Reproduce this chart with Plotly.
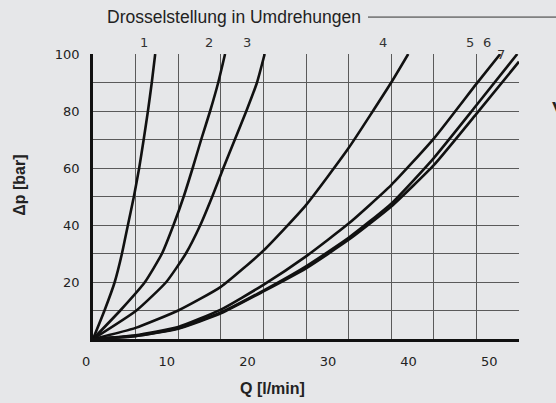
import plotly.graph_objects as go

# Drosselstellung curves: Q [l/min] vs dp [bar]
q1 = [0, 1.35, 2.55, 3.4, 4.1, 4.8, 5.42, 5.95, 6.45, 6.9, 7.3]
p1 = [0, 10, 20, 30, 40, 50, 60, 70, 80, 90, 100]

q2 = [0, 3.2, 6.1, 8.1, 9.45, 10.65, 11.7, 12.7, 13.75, 14.7, 15.5]
p2 = [0, 10, 20, 30, 40, 50, 60, 70, 80, 90, 100]

q3 = [0, 5.1, 8.6, 10.9, 12.6, 14.0, 15.3, 16.65, 18.0, 19.25, 20.15]
p3 = [0, 10, 20, 30, 40, 50, 60, 70, 80, 90, 100]

q4 = [0, 5, 10, 15, 20, 25, 30, 35, 37]
p4 = [0, 3.9, 10, 18.3, 31, 47, 67, 90, 100]

q5 = [0, 5, 10, 15, 20, 25, 30, 35, 40, 45, 47.8]
p5 = [0, 1.3, 4.2, 10.3, 19, 29, 40.5, 54, 70.3, 89.5, 100]

q6 = [0, 5, 10, 15, 20, 25, 30, 35, 40, 45, 49.8]
p6 = [0, 1.1, 3.8, 9.3, 17.0, 25.5, 35.5, 47.5, 63.5, 82, 100]

q7 = [0, 5, 10, 15, 20, 25, 30, 35, 40, 45, 50]
p7 = [0, 1.0, 3.6, 9.0, 16.7, 24.8, 34.8, 46.5, 61, 79, 97.3]

curve_labels = ["1", "2", "3", "4", "5", "6", "7"]
x_ticks = [0, 10, 20, 30, 40, 50]
y_ticks = [20, 40, 60, 80, 100]

series = [(q1, p1), (q2, p2), (q3, p3), (q4, p4), (q5, p5), (q6, p6), (q7, p7)]

W, H = 556, 403
PL = 80            # left edge of the whole plotting region (incl. shifted tick scale)
AX0, R, T, B = 93, 519, 54, 339.5   # main axes box
BG = "#e6e7e9"


def px(x):
    return (x - PL) / (R - PL)


def py(y):
    return (B - y) / (B - T)


fig = go.Figure()

# carrier for the printed Q scale (its labels sit slightly off the grid in the original)
fig.add_trace(go.Scatter(x=x_ticks, y=[0] * len(x_ticks), xaxis="x2", yaxis="y2",
                         mode="markers", marker=dict(opacity=0), showlegend=False,
                         hoverinfo="skip"))

for q, p in series:
    fig.add_trace(go.Scatter(x=q, y=p, mode="lines", xaxis="x", yaxis="y",
                             line=dict(color="#111111", width=2.6, shape="spline", smoothing=0.5),
                             showlegend=False, hoverinfo="skip", cliponaxis=False))

xv = list(range(0, 51, 5))
yv = list(range(0, 101, 10))
fig.update_layout(
    xaxis=dict(domain=[px(AX0), 1], range=[0, 50], tickvals=xv, showticklabels=False,
               showgrid=True, gridcolor="#5a5a5a", gridwidth=1,
               zeroline=False, showline=True, linecolor="#111111", linewidth=2.5,
               ticks="", anchor="y"),
    yaxis=dict(domain=[0, 1], range=[0, 100], tickvals=yv,
               ticktext=[str(v) if v in y_ticks else "" for v in yv],
               showgrid=True, gridcolor="#5a5a5a", gridwidth=1,
               zeroline=False, showline=True, linecolor="#111111", linewidth=2.5,
               ticks="", ticklabelstandoff=8, anchor="x",
               tickfont=dict(family="DejaVu Sans", size=13, color="#222222")),
    xaxis2=dict(domain=[0, 1], range=[(PL - 86.2) / 8.06, (R - 86.2) / 8.06],
                tickvals=x_ticks, ticktext=[str(v) for v in x_ticks],
                showgrid=False, zeroline=False, showline=False, ticks="",
                anchor="y2", ticklabelstandoff=13,
                tickfont=dict(family="DejaVu Sans", size=13, color="#222222")),
    yaxis2=dict(domain=[0, 1], range=[0, 100], showgrid=False, zeroline=False,
                showline=False, showticklabels=False, ticks="", anchor="x2"),
)

# curve number labels at top
label_pos = [(144, 42), (209, 42), (247, 42), (383, 42), (470, 42), (487, 42), (501, 54)]
for lab, (lx, ly) in zip(curve_labels, label_pos):
    fig.add_annotation(x=px(lx), y=py(ly), xref="paper", yref="paper",
                       text=lab, showarrow=False, xanchor="center", yanchor="middle",
                       font=dict(family="DejaVu Sans", size=13, color="#333333"))

# title with line
fig.add_annotation(x=px(105), y=py(17), xref="paper", yref="paper",
                   text="Drosselstellung in Umdrehungen", showarrow=False,
                   xanchor="left", yanchor="middle",
                   font=dict(family="Liberation Sans", size=17.5, color="#222222"))
fig.add_shape(type="line", xref="paper", yref="paper",
              x0=px(368), x1=px(560), y0=py(17), y1=py(17),
              line=dict(color="#333333", width=1))

# axis titles
fig.add_annotation(x=px(20), y=py(186), xref="paper", yref="paper",
                   text="<b>Δp [bar]</b>", textangle=-90, showarrow=False,
                   xanchor="center", yanchor="middle",
                   font=dict(family="Liberation Sans", size=16, color="#222222"))
fig.add_annotation(x=px(272), y=py(389), xref="paper", yref="paper",
                   text="<b>Q [l/min]</b>", showarrow=False,
                   xanchor="center", yanchor="middle",
                   font=dict(family="Liberation Sans", size=16, color="#222222"))

# partial glyph at right edge
fig.add_annotation(x=px(550), y=py(112), xref="paper", yref="paper",
                   text="V", showarrow=False, xanchor="left", yanchor="middle",
                   font=dict(family="Liberation Sans", size=30, color="#222222"))

fig.update_layout(width=W, height=H,
                  margin=dict(l=PL, r=W - R, t=T, b=H - B),
                  paper_bgcolor=BG, plot_bgcolor="rgba(0,0,0,0)")

fig.write_html("out.html", config={"displayModeBar": False},
               post_script="document.body.style.margin='0';document.body.style.background='%s';" % BG)
